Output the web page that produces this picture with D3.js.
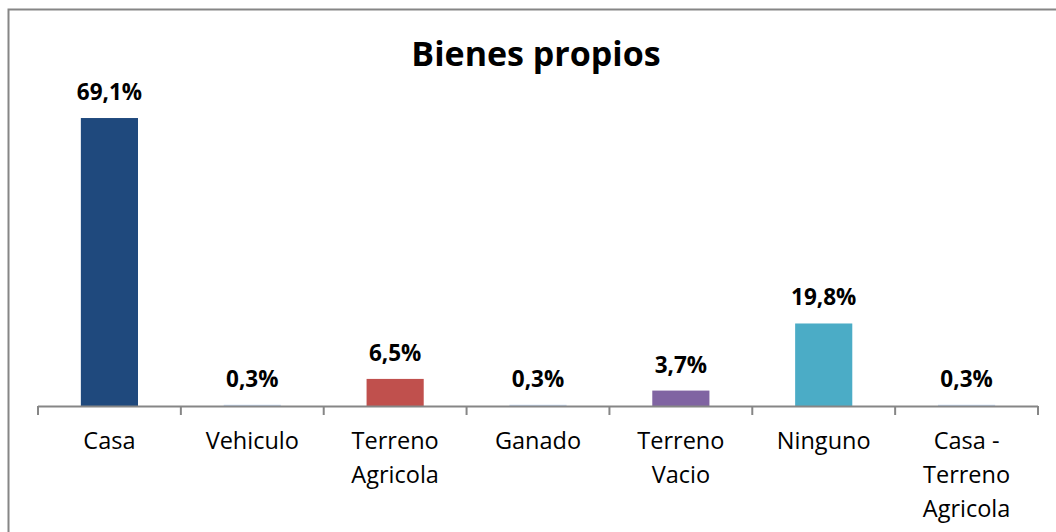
<!DOCTYPE html>
<html>
<head>
<meta charset="utf-8">
<script src="https://cdn.jsdelivr.net/npm/d3@7"></script>
<style>
  body { margin: 0; background: #fff; }
  svg { display: block; font-family: 'Open Sans', sans-serif; }
</style>
</head>
<body>
<svg class="chart-svg" width="1056" height="532"></svg>
<script>
const categories = [['Casa'], ['Vehiculo'], ['Terreno', 'Agricola'], ['Ganado'], ['Terreno', 'Vacio'], ['Ninguno'], ['Casa -', 'Terreno', 'Agricola']]
const values = [69.1, 0.3, 6.5, 0.3, 3.7, 19.8, 0.3]
const barColors = ['#1f497d', '#c6d9f1', '#c0504d', '#c6d9f1', '#8064a2', '#4bacc6', '#c6d9f1']
const title = 'Bienes propios'

const svg = d3.select('.chart-svg')

// chart frame (only top and left edges fall inside the picture)
svg.append('rect')
  .attr('x', 8.5).attr('y', 9.5)
  .attr('width', 1100).attr('height', 600)
  .attr('fill', 'none')
  .attr('stroke', '#868686')
  .attr('stroke-width', 2)

const xScale = d3.scaleBand()
  .domain(d3.range(categories.length))
  .range([38, 1038])
  .paddingInner(0.6)
  .paddingOuter(0.3)

const yScale = d3.scaleLinear()
  .domain([0, 80])
  .range([406, 72.6])

const g = svg.append('g')

g.selectAll('.bar')
  .data(values)
  .join('rect')
  .attr('class', 'bar')
  .attr('x', (d, i) => xScale(i))
  .attr('width', xScale.bandwidth())
  .attr('y', d => yScale(d))
  .attr('height', d => yScale(0) - yScale(d))
  .attr('fill', (d, i) => barColors[i])

g.selectAll('.value-label')
  .data(values)
  .join('text')
  .attr('class', 'value-label')
  .attr('x', (d, i) => xScale(i) + xScale.bandwidth() / 2)
  .attr('y', d => yScale(d) - 18)
  .attr('text-anchor', 'middle')
  .style('font-size', '22.5px')
  .style('font-weight', 'bold')
  .attr('fill', '#000')
  .text(d => d.toFixed(1).replace('.', ',') + '%')

// x axis: ticks sit on category boundaries
const step = (1038 - 38) / categories.length
const axis = svg.append('g').attr('class', 'x axis')
axis.append('line')
  .attr('x1', 38).attr('x2', 1038)
  .attr('y1', 406.5).attr('y2', 406.5)
  .attr('stroke', '#868686').attr('stroke-width', 2)
axis.selectAll('.tick')
  .data(d3.range(categories.length + 1))
  .join('line')
  .attr('class', 'tick')
  .attr('x1', i => 38 + i * step).attr('x2', i => 38 + i * step)
  .attr('y1', 406).attr('y2', 415)
  .attr('stroke', '#868686').attr('stroke-width', 2)

axis.selectAll('.cat-label')
  .data(categories)
  .join('text')
  .attr('class', 'cat-label')
  .attr('text-anchor', 'middle')
  .style('font-size', '23.5px')
  .attr('fill', '#000')
  .each(function (lines, i) {
    d3.select(this).selectAll('tspan')
      .data(lines)
      .join('tspan')
      .attr('x', xScale(i) + xScale.bandwidth() / 2)
      .attr('y', (d, j) => 449 + j * 34)
      .text(d => d)
  })

svg.append('text')
  .attr('x', 536)
  .attr('y', 66)
  .attr('text-anchor', 'middle')
  .style('font-size', '34px')
  .style('font-weight', 'bold')
  .text(title)
</script>
</body>
</html>
